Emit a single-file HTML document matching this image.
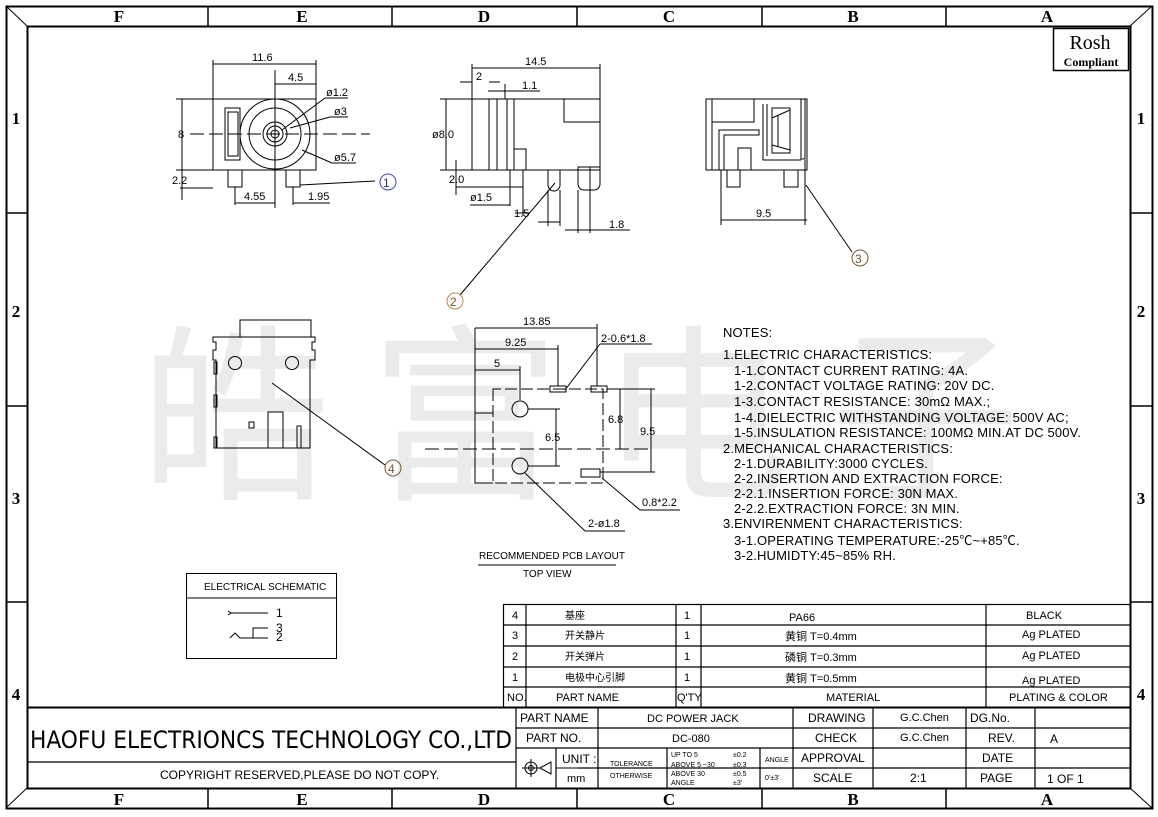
<!DOCTYPE html>
<html><head><meta charset="utf-8"><style>
html,body{margin:0;padding:0;background:#fff;}
svg{display:block;}
text{font-family:"Liberation Sans","Noto Sans CJK SC",sans-serif;fill:#000;}
.s{font-family:"Liberation Serif",serif;font-weight:bold;font-size:17px;}
</style></head><body>
<svg width="1158" height="817" viewBox="0 0 1158 817" xmlns="http://www.w3.org/2000/svg">
<g font-family="Noto Sans CJK SC,sans-serif" font-size="190">
<text x="140" y="485" style="fill:#ebebeb">皓</text>
<text x="370" y="485" style="fill:#ebebeb">富</text>
<text x="600" y="485" style="fill:#ebebeb">电</text>
<text x="830" y="485" style="fill:#ebebeb">子</text>
</g>
<g stroke="#000" fill="none" stroke-width="1">
<rect x="6.5" y="6.5" width="1146" height="802" stroke-width="2"/>
<rect x="27.5" y="26.5" width="1103" height="762" stroke-width="2"/>
<line x1="6" y1="6" x2="27" y2="26"/><line x1="1152" y1="6" x2="1130" y2="26"/>
<line x1="6" y1="808" x2="27" y2="788"/><line x1="1152" y1="808" x2="1130" y2="788"/>
<g stroke-width="1.5">
<line x1="208" y1="6" x2="208" y2="26"/><line x1="392" y1="6" x2="392" y2="26"/><line x1="577" y1="6" x2="577" y2="26"/><line x1="762" y1="6" x2="762" y2="26"/><line x1="946" y1="6" x2="946" y2="26"/>
<line x1="208" y1="788" x2="208" y2="808"/><line x1="392" y1="788" x2="392" y2="808"/><line x1="577" y1="788" x2="577" y2="808"/><line x1="762" y1="788" x2="762" y2="808"/><line x1="946" y1="788" x2="946" y2="808"/>
<line x1="6" y1="213" x2="27" y2="213"/><line x1="6" y1="406" x2="27" y2="406"/><line x1="6" y1="602" x2="27" y2="602"/>
<line x1="1130" y1="213" x2="1152" y2="213"/><line x1="1130" y1="406" x2="1152" y2="406"/><line x1="1130" y1="602" x2="1152" y2="602"/>
</g>
<rect x="1053.5" y="28.5" width="75" height="42" stroke-width="1.5"/>
</g>
<g class="s" text-anchor="middle">
<text class="s" x="119" y="22">F</text><text class="s" x="302" y="22">E</text><text class="s" x="484" y="22">D</text><text class="s" x="669" y="22">C</text><text class="s" x="853" y="22">B</text><text class="s" x="1047" y="22">A</text>
<text class="s" x="119" y="805">F</text><text class="s" x="302" y="805">E</text><text class="s" x="484" y="805">D</text><text class="s" x="669" y="805">C</text><text class="s" x="853" y="805">B</text><text class="s" x="1047" y="805">A</text>
<text class="s" x="16" y="124">1</text><text class="s" x="16" y="317">2</text><text class="s" x="16" y="504">3</text><text class="s" x="16" y="700">4</text>
<text class="s" x="1141" y="124">1</text><text class="s" x="1141" y="317">2</text><text class="s" x="1141" y="504">3</text><text class="s" x="1141" y="700">4</text>
</g>
<text x="1090" y="49" text-anchor="middle" style="font-family:'Liberation Serif',serif;font-size:20px">Rosh</text>
<text x="1091" y="66" text-anchor="middle" style="font-family:'Liberation Serif',serif;font-size:12px;font-weight:bold">Compliant</text>

<g stroke="#000" fill="none" stroke-width="1">
<rect x="213" y="99" width="103" height="71"/>
<rect x="225" y="108" width="15" height="52"/>
<rect x="228" y="112" width="10" height="44"/>
<circle cx="275" cy="134" r="35"/><circle cx="275" cy="134" r="26"/><circle cx="275" cy="134" r="12"/><circle cx="275" cy="134" r="8"/><circle cx="275" cy="134" r="4"/>
<rect x="228" y="170" width="14" height="17"/><rect x="286" y="170" width="14" height="17"/>
<line x1="190" y1="134" x2="370" y2="134" stroke-dasharray="14,5"/>
<line x1="275" y1="70" x2="275" y2="208"/>
<line x1="213" y1="60" x2="213" y2="99"/><line x1="316" y1="60" x2="316" y2="99"/>
<line x1="213" y1="64" x2="316" y2="64"/><line x1="275" y1="84" x2="316" y2="84"/>
<line x1="176" y1="99" x2="213" y2="99"/><line x1="176" y1="170" x2="213" y2="170"/>
<line x1="182" y1="99" x2="182" y2="170"/>
<line x1="180" y1="188" x2="213" y2="188"/><line x1="182" y1="170" x2="182" y2="200"/>
<line x1="235" y1="187" x2="235" y2="205"/><line x1="235" y1="203" x2="275" y2="203"/>
<line x1="293" y1="187" x2="293" y2="205"/><line x1="293" y1="203" x2="330" y2="203"/>
<line x1="300" y1="185" x2="375" y2="181"/>
<line x1="282" y1="130" x2="325" y2="98"/><line x1="325" y1="98" x2="348" y2="98"/>
<line x1="290" y1="128" x2="330" y2="117"/><line x1="330" y1="117" x2="348" y2="117"/>
<line x1="302" y1="150" x2="332" y2="163"/><line x1="332" y1="163" x2="356" y2="163"/>
<circle cx="388" cy="182" r="8" stroke="#44a"/>
</g>
<g font-size="11">
<text x="252" y="61">11.6</text><text x="288" y="81">4.5</text><text x="326" y="96">ø1.2</text><text x="334" y="115">ø3</text><text x="334" y="161">ø5.7</text>
<text x="178" y="138">8</text><text x="172" y="184">2.2</text><text x="244" y="200">4.55</text><text x="308" y="200">1.95</text>
<text x="383" y="187" font-size="12" style="fill:#336">1</text>
</g>

<g stroke="#000" fill="none" stroke-width="1">
<rect x="472" y="99" width="128" height="71"/>
<line x1="489" y1="99" x2="489" y2="170"/><line x1="497" y1="99" x2="497" y2="170"/><line x1="507" y1="99" x2="507" y2="170"/><line x1="514" y1="99" x2="514" y2="170"/>
<rect x="564" y="99" width="36" height="23"/><rect x="514" y="149" width="12" height="21"/>
<rect x="510" y="170" width="13" height="17"/>
<path d="M548 170 V185 a6 6 0 0 0 12 0 V170"/>
<path d="M578 167 H600 V184 a6 6 0 0 1 -6 6 H584 a6 6 0 0 1 -6 -6 Z"/><line x1="590" y1="167" x2="590" y2="190"/>
<line x1="472" y1="64" x2="472" y2="99"/><line x1="600" y1="64" x2="600" y2="99"/><line x1="472" y1="68" x2="600" y2="68"/>
<line x1="460" y1="82" x2="472" y2="82"/><line x1="489" y1="82" x2="500" y2="82"/>
<line x1="488" y1="91" x2="540" y2="91"/><line x1="505" y1="84" x2="505" y2="99"/>
<line x1="440" y1="99" x2="472" y2="99"/><line x1="440" y1="170" x2="472" y2="170"/><line x1="446" y1="99" x2="446" y2="170"/>
<line x1="456" y1="160" x2="456" y2="195"/><line x1="456" y1="187" x2="510" y2="187"/>
<line x1="510" y1="187" x2="510" y2="206"/><line x1="470" y1="205" x2="510" y2="205"/>
<line x1="523" y1="187" x2="523" y2="216"/><line x1="515" y1="213" x2="530" y2="213"/>
<line x1="548" y1="190" x2="548" y2="226"/><line x1="560" y1="190" x2="560" y2="226"/><line x1="538" y1="222" x2="560" y2="222"/>
<line x1="578" y1="190" x2="578" y2="233"/><line x1="590" y1="190" x2="590" y2="233"/><line x1="565" y1="230" x2="630" y2="230"/>
<line x1="555" y1="183" x2="460" y2="295"/>
<circle cx="455" cy="301" r="8" stroke="#b85"/>
</g>
<g font-size="11">
<text x="525" y="65">14.5</text><text x="476" y="80">2</text><text x="522" y="89">1.1</text>
<text x="432" y="138">ø8.0</text><text x="449" y="183">2.0</text><text x="470" y="201">ø1.5</text><text x="514" y="217">1.5</text><text x="609" y="228">1.8</text>
<text x="450" y="306" font-size="12" style="fill:#753">2</text>
</g>

<g stroke="#000" fill="none" stroke-width="1">
<rect x="706" y="99" width="101" height="71"/>
<line x1="712" y1="99" x2="712" y2="170"/>
<rect x="712" y="99" width="42" height="23"/>
<path d="M719 170 V130 H759 V135 H724 V170"/>
<rect x="738" y="148" width="13" height="22"/>
<path d="M763 104 V160 H801 M767 104 V156"/>
<path d="M772 108 H790 V153 H772 Z M772 118 L790 110 M772 145 L790 150 M778 116 V147"/>
<rect x="801" y="99" width="4" height="60"/>
<rect x="727" y="170" width="13" height="17"/><rect x="784" y="170" width="14" height="17"/>
<line x1="721" y1="170" x2="721" y2="225"/><line x1="805" y1="160" x2="805" y2="225"/>
<line x1="721" y1="220" x2="807" y2="220"/>
<line x1="806" y1="185" x2="852" y2="252"/>
<circle cx="860" cy="258" r="8" stroke="#753"/>
</g>
<text x="756" y="217" font-size="11">9.5</text>
<text x="855" y="263" font-size="12" style="fill:#753">3</text>

<g stroke="#000" fill="none" stroke-width="1">
<rect x="240" y="320" width="71" height="17"/>
<path d="M213 337 H315 V342 H312 V350 H315 V360 H310 V448 H216 V360 H213 V350 H216 V342 H213 Z"/>
<circle cx="235" cy="363" r="6.5"/><circle cx="292" cy="363" r="6.5"/>
<rect x="268" y="412" width="15" height="36"/><rect x="297" y="426" width="4" height="22"/>
<rect x="249" y="422" width="5" height="6"/>
<rect x="214" y="362" width="3" height="12"/><rect x="214" y="395" width="3" height="12"/><rect x="214" y="437" width="3" height="11"/>
<line x1="385" y1="465" x2="272" y2="383"/>
<circle cx="393" cy="468" r="8" stroke="#753"/>
</g>
<text x="388" y="473" font-size="12" style="fill:#753">4</text>

<g stroke="#000" fill="none" stroke-width="1">
<path d="M475 328 V483 H493 M475 413 H493"/>
<path d="M493 389 V483 H603 V389 Z" stroke-dasharray="12,4"/>
<circle cx="520" cy="409" r="8"/><circle cx="520" cy="466" r="8"/>
<rect x="550" y="386" width="16" height="6"/><rect x="591" y="386" width="16" height="6"/><rect x="581" y="469" width="19" height="8"/>
<line x1="425" y1="449" x2="650" y2="449" stroke-dasharray="14,5"/>
<line x1="475" y1="328" x2="597" y2="328"/><line x1="597" y1="324" x2="597" y2="386"/>
<line x1="475" y1="349" x2="558" y2="349"/><line x1="558" y1="345" x2="558" y2="386"/>
<line x1="475" y1="370" x2="520" y2="370"/><line x1="520" y1="366" x2="520" y2="400"/>
<line x1="607" y1="389" x2="655" y2="389"/><line x1="600" y1="472" x2="655" y2="472"/>
<line x1="620" y1="389" x2="620" y2="449"/><line x1="651" y1="389" x2="651" y2="472"/>
<line x1="528" y1="409" x2="560" y2="409"/><line x1="528" y1="466" x2="560" y2="466"/><line x1="556" y1="409" x2="556" y2="466"/>
<line x1="565" y1="390" x2="600" y2="344"/><line x1="600" y1="344" x2="652" y2="344"/>
<line x1="602" y1="478" x2="640" y2="510"/><line x1="640" y1="510" x2="680" y2="510"/>
<line x1="525" y1="473" x2="585" y2="531"/><line x1="585" y1="531" x2="625" y2="531"/>
<line x1="478" y1="565" x2="616" y2="565"/>
</g>
<g font-size="11">
<text x="523" y="325">13.85</text><text x="505" y="346">9.25</text><text x="494" y="367">5</text>
<text x="601" y="342">2-0.6*1.8</text><text x="608" y="423">6.8</text><text x="640" y="435">9.5</text><text x="545" y="441">6.5</text>
<text x="642" y="506">0.8*2.2</text><text x="588" y="527">2-ø1.8</text>
<text x="479" y="559" font-size="10">RECOMMENDED PCB LAYOUT</text><text x="523" y="577" font-size="10">TOP VIEW</text>
</g>

<g font-size="13" style="letter-spacing:0.15px">
<text x="723" y="337">NOTES:</text>
<text x="723" y="359">1.ELECTRIC CHARACTERISTICS:</text>
<text x="734" y="375">1-1.CONTACT CURRENT RATING: 4A.</text>
<text x="734" y="390">1-2.CONTACT VOLTAGE RATING: 20V DC.</text>
<text x="734" y="406">1-3.CONTACT RESISTANCE: 30mΩ MAX.;</text>
<text x="734" y="422">1-4.DIELECTRIC WITHSTANDING VOLTAGE: 500V AC;</text>
<text x="734" y="437">1-5.INSULATION RESISTANCE: 100MΩ MIN.AT DC 500V.</text>
<text x="723" y="453">2.MECHANICAL CHARACTERISTICS:</text>
<text x="734" y="468">2-1.DURABILITY:3000 CYCLES.</text>
<text x="734" y="483">2-2.INSERTION AND EXTRACTION FORCE:</text>
<text x="734" y="498">2-2.1.INSERTION FORCE: 30N MAX.</text>
<text x="734" y="513">2-2.2.EXTRACTION FORCE: 3N MIN.</text>
<text x="723" y="528">3.ENVIRENMENT CHARACTERISTICS:</text>
<text x="734" y="545">3-1.OPERATING TEMPERATURE:-25℃~+85℃.</text>
<text x="734" y="560">3-2.HUMIDTY:45~85% RH.</text>
</g>

<g stroke="#000" fill="none" stroke-width="1">
<rect x="186.5" y="573.5" width="150" height="85"/>
<line x1="186" y1="598" x2="336" y2="598"/>
<path d="M228 611 L231 613 L228 615 M230 613 H268"/>
<path d="M230 638 L235 633 L240 638 H253 V628 H268 M253 638 H268"/>
</g>
<g font-size="10"><text x="204" y="590">ELECTRICAL SCHEMATIC</text></g>
<g font-size="12"><text x="276" y="617">1</text><text x="276" y="632">3</text><text x="276" y="641">2</text></g>

<g stroke="#000" fill="none" stroke-width="1.2">
<rect x="503.5" y="604.5" width="627" height="103"/>
<line x1="503" y1="625" x2="1130" y2="625"/><line x1="503" y1="646" x2="1130" y2="646"/><line x1="503" y1="667" x2="1130" y2="667"/><line x1="503" y1="687" x2="1130" y2="687"/>
<line x1="526" y1="604" x2="526" y2="707"/><line x1="676" y1="604" x2="676" y2="707"/><line x1="701" y1="604" x2="701" y2="707"/><line x1="986" y1="604" x2="986" y2="707"/>
<line x1="27" y1="707.5" x2="1130" y2="707.5" stroke-width="2"/>
<line x1="27" y1="762" x2="516" y2="762"/>
<line x1="516" y1="707" x2="516" y2="788"/>
<line x1="516" y1="728" x2="1130" y2="728"/><line x1="516" y1="748" x2="1130" y2="748"/><line x1="578" y1="768" x2="1130" y2="768"/>
<line x1="598" y1="707" x2="598" y2="748"/><line x1="793" y1="707" x2="793" y2="788"/><line x1="873" y1="707" x2="873" y2="788"/><line x1="966" y1="707" x2="966" y2="788"/><line x1="1035" y1="707" x2="1035" y2="788"/>
<line x1="556" y1="748" x2="556" y2="788"/><line x1="598" y1="748" x2="598" y2="788"/><line x1="667" y1="748" x2="667" y2="788"/><line x1="760" y1="748" x2="760" y2="788"/>
<line x1="556" y1="768" x2="598" y2="768" stroke-width="1"/>
<circle cx="531" cy="768" r="6" stroke-width="1"/><circle cx="531" cy="768" r="2.5" stroke-width="1"/><line x1="522" y1="768" x2="540" y2="768" stroke-width="1"/><line x1="531" y1="759" x2="531" y2="777" stroke-width="1"/>
<path d="M540 768 L551 762 V774 Z" stroke-width="1"/>
</g>
<g font-size="11">
<text x="512" y="619">4</text><text x="512" y="639">3</text><text x="512" y="660">2</text><text x="512" y="681">1</text><text x="507" y="701">NO.</text>
<text x="565" y="619" font-size="10">基座</text><text x="565" y="639" font-size="10">开关静片</text><text x="565" y="660" font-size="10">开关弹片</text><text x="565" y="681" font-size="10">电极中心引脚</text>
<text x="556" y="701">PART NAME</text>
<text x="684" y="619">1</text><text x="684" y="639">1</text><text x="684" y="660">1</text><text x="684" y="681">1</text><text x="677" y="701">Q'TY</text>
<text x="789" y="621">PA66</text><text x="785" y="640">黄铜 T=0.4mm</text><text x="785" y="661">磷铜 T=0.3mm</text><text x="785" y="682">黄铜 T=0.5mm</text><text x="826" y="701">MATERIAL</text>
<text x="1026" y="619">BLACK</text><text x="1022" y="638">Ag PLATED</text><text x="1022" y="659">Ag PLATED</text><text x="1022" y="684">Ag PLATED</text><text x="1009" y="701">PLATING &amp; COLOR</text>
<text x="520" y="722" font-size="12">PART NAME</text><text x="526" y="742" font-size="12">PART NO.</text>
<text x="647" y="722">DC POWER JACK</text><text x="672" y="742">DC-080</text>
<text x="562" y="763" font-size="12">UNIT :</text><text x="567" y="782">mm</text>
<text x="610" y="766" font-size="7">TOLERANCE</text><text x="610" y="778" font-size="7">OTHERWISE</text>
<text x="671" y="757" font-size="7">UP TO 5</text><text x="671" y="767" font-size="7">ABOVE 5 ~30</text><text x="671" y="776" font-size="7">ABOVE 30</text><text x="671" y="785" font-size="7">ANGLE</text>
<text x="733" y="757" font-size="7">±0.2</text><text x="733" y="767" font-size="7">±0.3</text><text x="733" y="776" font-size="7">±0.5</text><text x="733" y="785" font-size="7">±3'</text>
<text x="765" y="762" font-size="7">ANGLE</text><text x="765" y="780" font-size="7">0'±3'</text>
<text x="808" y="722" font-size="12">DRAWING</text><text x="815" y="742" font-size="12">CHECK</text><text x="801" y="762" font-size="12">APPROVAL</text><text x="813" y="782" font-size="12">SCALE</text>
<text x="900" y="721">G.C.Chen</text><text x="900" y="741">G.C.Chen</text><text x="910" y="782" font-size="12">2:1</text>
<text x="970" y="722" font-size="12">DG.No.</text><text x="988" y="742" font-size="12">REV.</text><text x="982" y="762" font-size="12">DATE</text><text x="980" y="782" font-size="12">PAGE</text>
<text x="1050" y="743" font-size="12">A</text><text x="1047" y="783" font-size="12">1 OF 1</text>
</g>
<text x="30" y="748" font-size="24" textLength="482" lengthAdjust="spacingAndGlyphs" style="font-family:'DejaVu Sans Condensed','Liberation Sans',sans-serif">HAOFU ELECTRIONCS TECHNOLOGY CO.,LTD</text>
<text x="160" y="779" font-size="12">COPYRIGHT RESERVED,PLEASE DO NOT COPY.</text>
</svg>
</body></html>
